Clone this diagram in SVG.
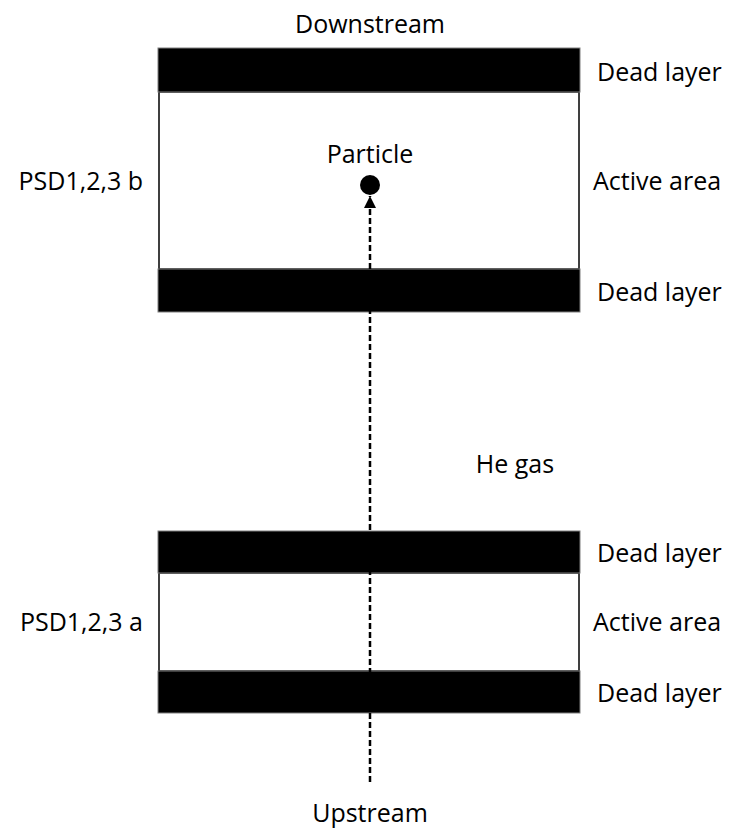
<svg xmlns="http://www.w3.org/2000/svg" width="734" height="828" viewBox="0 0 734 828">
  <style>
    text { font-family: "Open Sans", "Noto Sans", "Liberation Sans", sans-serif; font-size: 25px; fill: #000; }
    .dead { fill: #000; stroke: #7f7f7f; stroke-width: 1; }
    .active { fill: #fff; stroke: #000; stroke-width: 1.5; }
    .path { fill: none; stroke: #000; stroke-width: 2.5; stroke-dasharray: 6 3; }
  </style>
  <defs>
    <marker id="arrow" viewBox="0 0 12 12" refX="12" refY="6" markerWidth="12" markerHeight="12" markerUnits="userSpaceOnUse" orient="auto">
      <path d="M0,0 L12,6 L0,12 Z" fill="#000"/>
    </marker>
  </defs>

  <rect width="734" height="828" fill="#fff"/>

  <text x="370" y="33" text-anchor="middle">Downstream</text>
  <text x="370" y="822" text-anchor="middle">Upstream</text>
  <text x="515" y="473" text-anchor="middle">He gas</text>

  <!-- downstream detector -->
  <g id="psd-b">
    <rect class="active" x="159" y="92" width="420" height="177"/>
    <rect class="dead" x="158" y="48" width="422" height="44"/>
    <rect class="dead" x="158" y="269" width="422" height="43"/>
    <text x="143" y="190" text-anchor="end">PSD1,2,3 b</text>
    <text x="597" y="81">Dead layer</text>
    <text x="593" y="190">Active area</text>
    <text x="597" y="301">Dead layer</text>
  </g>

  <!-- upstream detector -->
  <g id="psd-a">
    <rect class="active" x="159" y="573" width="420" height="98"/>
    <rect class="dead" x="158" y="531" width="422" height="42"/>
    <rect class="dead" x="158" y="671" width="422" height="42"/>
    <text x="143" y="631" text-anchor="end">PSD1,2,3 a</text>
    <text x="597" y="562">Dead layer</text>
    <text x="593" y="631">Active area</text>
    <text x="597" y="702">Dead layer</text>
  </g>

  <!-- trajectory of the particle through both detectors -->
  <g id="connectors">
    <line class="path" x1="370" y1="782" x2="370" y2="196" marker-end="url(#arrow)"/>
  </g>

  <g id="particle">
    <circle cx="370" cy="185" r="10" fill="#000"/>
    <text x="370" y="163" text-anchor="middle">Particle</text>
  </g>
</svg>
